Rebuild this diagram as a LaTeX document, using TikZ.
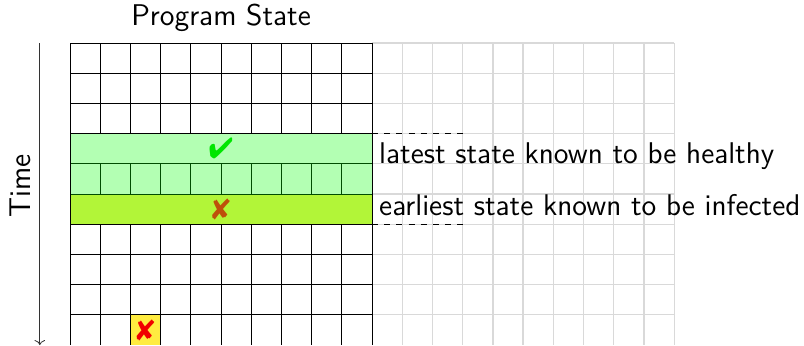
\documentclass[tikz,border=0pt]{standalone}
\usepackage{pifont}
\usepackage{tikz}
\usetikzlibrary{positioning, arrows.meta}
\renewcommand{\familydefault}{\sfdefault}
\definecolor{HealthyGreen}{RGB}{179,255,179}
\definecolor{InfectedLime}{RGB}{178,245,56}
\definecolor{CheckGreen}{RGB}{0,230,0}
\definecolor{CrossBrown}{RGB}{190,80,10}
\definecolor{CrossRed}{RGB}{240,0,0}
\definecolor{CellYellow}{RGB}{255,236,64}
\colorlet{GhostGray}{gray!30}
\colorlet{BandLine}{black!70!green}
\newcommand{\labelfont}{\fontsize{14.8}{18}\selectfont}
\tikzset{
  stategrid/.style={draw=black, line width=0.4pt},
  bandgrid/.style={draw=BandLine, line width=0.4pt},
  ghostgrid/.style={draw=GhostGray, line width=0.6pt},
  healthyband/.style={fill=HealthyGreen},
  infectedband/.style={fill=InfectedLime},
  hitcell/.style={fill=CellYellow},
  stamp/.style={font=\Large, inner sep=0pt},
  note/.style={font=\labelfont, anchor=base west},
  markline/.style={dashed, black, line width=0.4pt},
  timearrow/.style={->, black!80, line width=0.4pt},
}

\begin{document}
\begin{tikzpicture}[x=0.5245cm, y=0.5245cm, font=\labelfont]
  \useasboundingbox (-2.318,-10) rectangle (24.30,1.424);
  \foreach \r in {0,...,9}
    \draw[ghostgrid] (10,-\r) -- (20,-\r);
  \foreach \c in {11,...,20}
    \draw[ghostgrid] (\c,0) -- (\c,-10);
  \fill[healthyband] (0,-3) rectangle (10,-5);
  \fill[infectedband] (0,-5) rectangle (10,-6);
  \fill[hitcell] (2,-9) rectangle (3,-10);
  \foreach \r in {0,1,2,3,6,7,8,9}
    \draw[stategrid] (0,-\r) -- (10,-\r);
  \foreach \r in {4,5}
    \draw[bandgrid] (0,-\r) -- (10,-\r);
  \foreach \c in {1,...,9} {
    \draw[stategrid] (\c,0) -- (\c,-3);
    \draw[bandgrid] (\c,-4) -- (\c,-5);
    \draw[stategrid] (\c,-6) -- (\c,-10);
  }
  \draw[stategrid] (0,0) -- (0,-10);
  \draw[stategrid] (10,0) -- (10,-10);

  \node (title) at (5,0.83) {Program State};
  \node[stamp, text=CheckGreen] (healthymark) at (5,-3.5) {\ding{52}};
  \node[stamp, text=CrossBrown] (infectedmark) at (5,-5.5) {\ding{56}};
  \node[stamp, text=CrossRed] (attackmark) at (2.5,-9.5) {\ding{56}};

  \node[note] (healthynote) at (10,-4) {latest state known to be healthy};
  \node[note] (infectednote) at (10,-5.7) {earliest state known to be infected};
  \coordinate (healthyedge) at (10,-3);
  \coordinate (healthyend) at (13,-3);
  \coordinate (infectededge) at (10,-6);
  \coordinate (infectedend) at (13,-6);
  \draw[markline] (healthyedge) -- (healthyend);
  \draw[markline] (infectededge) -- (infectedend);

  \coordinate (timestart) at (-1,0);
  \coordinate (timeend) at (-1,-10);
  \draw[timearrow] (timestart) -- (timeend);
  \node[rotate=90] (timelabel) at (-1.66,-4.74) {Time};
\end{tikzpicture}
\end{document}
